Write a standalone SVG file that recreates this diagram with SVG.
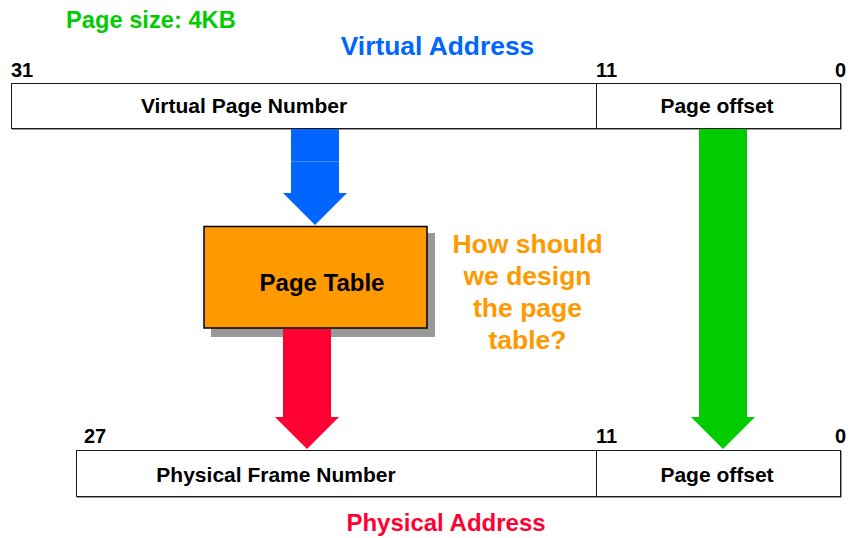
<svg xmlns="http://www.w3.org/2000/svg" width="850" height="538" viewBox="0 0 850 538">
  <style>
    text { font-family: "Liberation Sans", Arial, sans-serif; font-weight: bold; }
    .bar { fill: #ffffff; stroke: #1a1a1a; stroke-width: 1; }
    .barshadow { fill: #9a9a9a; }
    .div { stroke: #1a1a1a; stroke-width: 1; }
    .lbl { font-size: 21px; fill: #000000; text-anchor: middle; }
    .bit { font-size: 20px; fill: #000000; }
    .q { font-size: 26.5px; fill: #FF9900; text-anchor: middle; }
  </style>

  <!-- headings -->
  <text x="66" y="28" font-size="23.7" fill="#00CC00">Page size: 4KB</text>
  <text x="437.5" y="55" font-size="26.4" fill="#0066FF" text-anchor="middle">Virtual Address</text>
  <text x="446" y="531" font-size="24" fill="#FF0033" text-anchor="middle">Physical Address</text>

  <!-- virtual address register -->
  <g id="virtual-address">
    <rect class="barshadow" x="12" y="84" width="830" height="46"/>
    <rect class="bar" x="11.5" y="83.5" width="829" height="45"/>
    <line class="div" x1="596.5" y1="83.5" x2="596.5" y2="128.5"/>
    <text class="bit" x="11" y="77">31</text>
    <text class="bit" x="596" y="77">11</text>
    <text class="bit" x="846" y="77" text-anchor="end">0</text>
    <text class="lbl" x="244" y="113">Virtual Page Number</text>
    <text class="lbl" x="717" y="113">Page offset</text>
  </g>

  <!-- page table -->
  <g id="page-table">
    <rect x="211" y="233" width="224" height="104" fill="#999999"/>
    <rect x="204" y="226.5" width="223" height="101.5" fill="#FF9900" stroke="#000000" stroke-width="1.5"/>
    <text x="322" y="291" font-size="24" fill="#000000" text-anchor="middle">Page Table</text>
  </g>

  <!-- question -->
  <g id="question">
    <text class="q" x="527.5" y="253">How should</text>
    <text class="q" x="527.5" y="285">we design</text>
    <text class="q" x="527.5" y="317">the page</text>
    <text class="q" x="527.5" y="349">table?</text>
  </g>

  <!-- physical address register -->
  <g id="physical-address">
    <rect class="barshadow" x="77" y="451" width="765" height="47"/>
    <rect class="bar" x="76.5" y="450.5" width="764" height="46"/>
    <line class="div" x1="596.5" y1="450.5" x2="596.5" y2="496.5"/>
    <text class="bit" x="84" y="443">27</text>
    <text class="bit" x="596" y="443">11</text>
    <text class="bit" x="846" y="443" text-anchor="end">0</text>
    <text class="lbl" x="276" y="482">Physical Frame Number</text>
    <text class="lbl" x="717" y="482">Page offset</text>
  </g>

  <!-- block arrows -->
  <g id="connectors">
    <path d="M291,129 H339 V193 H347 L315,225 L283,193 H291 Z" fill="#0066FF"/>
    <line x1="291" y1="161.5" x2="339" y2="161.5" stroke="#3d8bff" stroke-width="1"/>
    <path d="M283,329 H331 V417 H339 L307,449 L275,417 H283 Z" fill="#FF0033"/>
    <path d="M699,129 H747 V417 H755 L723,449 L691,417 H699 Z" fill="#00CC00"/>
  </g>
</svg>
